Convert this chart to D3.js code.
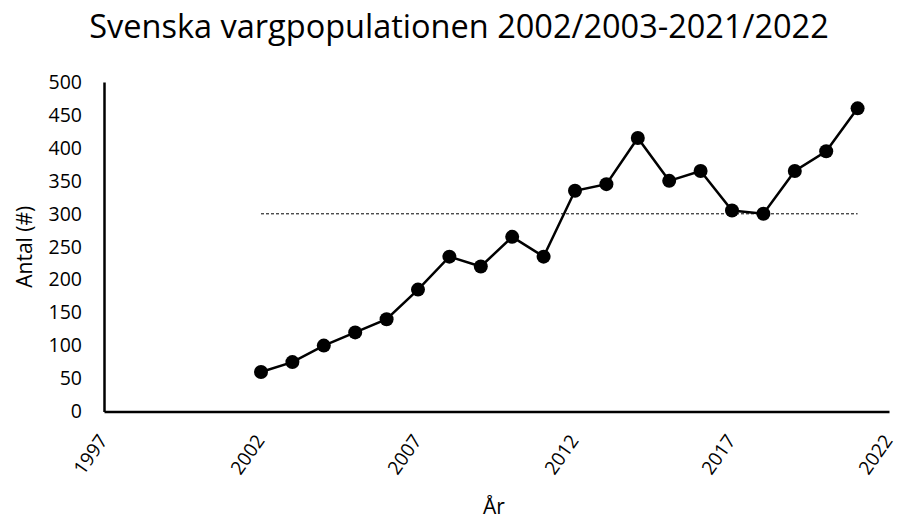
<!DOCTYPE html>
<html>
<head>
<meta charset="utf-8">
<script src="https://cdn.jsdelivr.net/npm/d3@7"></script>
<style>
  body { margin: 0; background: #fff; }
  svg { display: block; }
  text { font-family: "Open Sans", Lato, sans-serif; fill: #000; }
</style>
</head>
<body>
<svg id="chart" width="898" height="520"></svg>
<script>
const years = [2002, 2003, 2004, 2005, 2006, 2007, 2008, 2009, 2010, 2011,
               2012, 2013, 2014, 2015, 2016, 2017, 2018, 2019, 2020, 2021];
const wolves = [60, 75, 100, 120, 140, 185, 235, 220, 265, 235,
                335, 345, 415, 350, 365, 305, 300, 365, 395, 460];
const referenceLevel = [300, 300];
const referenceYears = [2002, 2021];
const xTicks = [1997, 2002, 2007, 2012, 2017, 2022];
const yTicks = [0, 50, 100, 150, 200, 250, 300, 350, 400, 450, 500];
const titleText = "Svenska vargpopulationen 2002/2003-2021/2022";
const xLabel = "År";
const yLabel = "Antal (#)";

const svg = d3.select("#chart");
const mLeft = 104, mRight = 889, mTop = 82, mBottom = 411.5;

const x = d3.scaleLinear().domain([1997, 2022]).range([mLeft, mRight]);
const y = d3.scaleLinear().domain([0, 500]).range([mBottom, mTop]);

// title
svg.append("text")
  .attr("x", 459).attr("y", 38)
  .attr("text-anchor", "middle")
  .style("font-size", "32.5px")
  .text(titleText);

// y axis
const yAxis = svg.append("g")
  .attr("transform", `translate(${mLeft},0)`)
  .call(d3.axisLeft(y).tickValues(yTicks).tickSize(0).tickPadding(22));
yAxis.select(".domain").attr("stroke", "#000").attr("stroke-width", 2.5);
yAxis.selectAll(".tick text").style("font-size", "19.5px").style("font-family", "\"Open Sans\", Lato, sans-serif").attr("fill", "#000");

// x axis
const xAxis = svg.append("g")
  .attr("transform", `translate(0,${mBottom})`)
  .call(d3.axisBottom(x).tickValues(xTicks).tickSize(0).tickFormat(d3.format("d")));
xAxis.select(".domain").attr("stroke", "#000").attr("stroke-width", 2.5);
xAxis.selectAll(".tick text")
  .style("font-size", "19px").style("font-family", "\"Open Sans\", Lato, sans-serif").attr("fill", "#000")
  .attr("text-anchor", "end")
  .attr("dy", "0")
  .attr("y", 0)
  .attr("transform", "translate(4,29) rotate(-55)");

// reference dashed line
svg.append("line")
  .attr("x1", x(referenceYears[0])).attr("x2", x(referenceYears[1]))
  .attr("y1", y(referenceLevel[0])).attr("y2", y(referenceLevel[1]))
  .attr("stroke", "#000").attr("stroke-width", 1)
  .attr("stroke-dasharray", "3,2");

// line
const data = years.map((yr, i) => ({ yr, v: wolves[i] }));
svg.append("path")
  .datum(data)
  .attr("fill", "none").attr("stroke", "#000").attr("stroke-width", 2.5)
  .attr("d", d3.line().x(d => x(d.yr)).y(d => y(d.v)));

svg.selectAll("circle.pt").data(data).enter().append("circle")
  .attr("class", "pt")
  .attr("cx", d => x(d.yr)).attr("cy", d => y(d.v))
  .attr("r", 7).attr("fill", "#000");

// axis titles
svg.append("text")
  .attr("x", 494).attr("y", 514)
  .attr("text-anchor", "middle")
  .style("font-size", "21px")
  .text(xLabel);

svg.append("text")
  .attr("transform", `translate(32,${(mTop + mBottom) / 2}) rotate(-90)`)
  .attr("text-anchor", "middle")
  .style("font-size", "21px")
  .text(yLabel);
</script>
</body>
</html>
